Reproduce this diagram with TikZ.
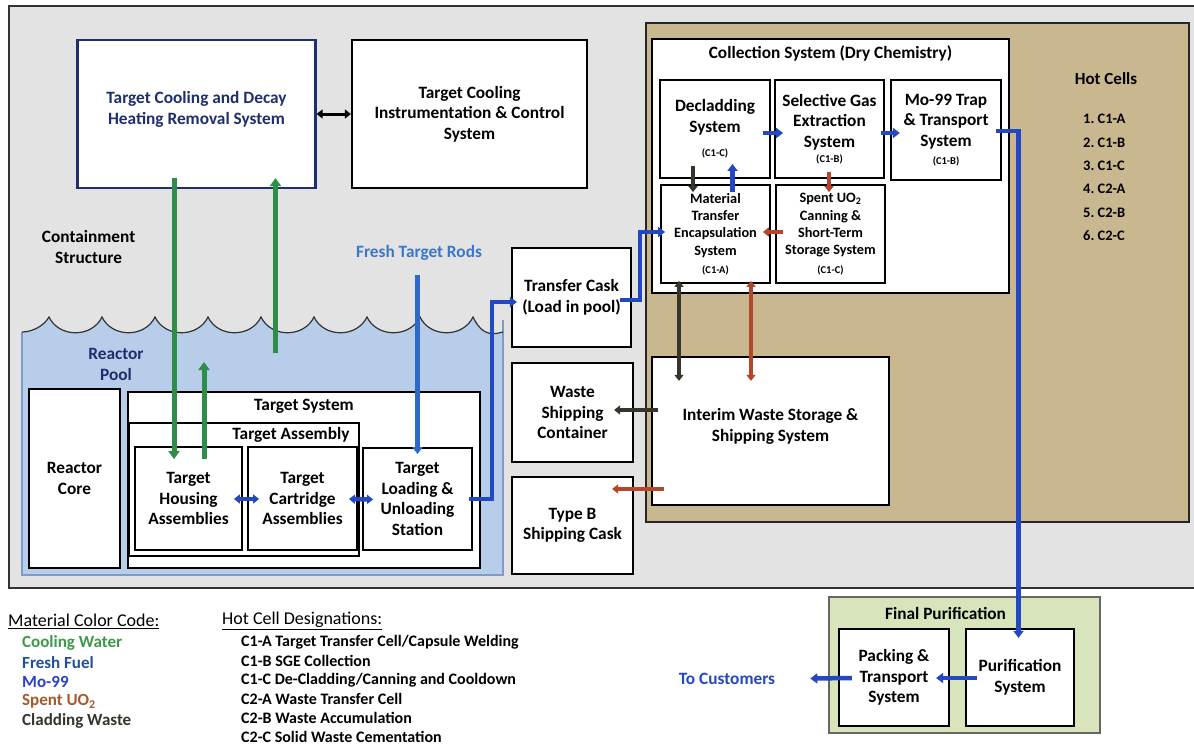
\documentclass[tikz,border=0pt]{standalone}
\usepackage{fontspec}
\setmainfont{Carlito}
\usetikzlibrary{arrows.meta,calc,positioning}
\definecolor{contc}{HTML}{E3E3E3}
\definecolor{tanc}{HTML}{C9B790}
\definecolor{poolc}{HTML}{B8CDE9}
\definecolor{poolline}{HTML}{7F9CC8}
\definecolor{greenbox}{HTML}{D7E4BC}
\definecolor{navyc}{HTML}{1F2F6E}
\definecolor{coolc}{HTML}{2E8E48}
\definecolor{fuelc}{HTML}{3068C8}
\definecolor{moc}{HTML}{2448C0}
\definecolor{spentc}{HTML}{B4462A}
\definecolor{cladc}{HTML}{35352B}
\definecolor{lfresh}{HTML}{3B78C8}
\definecolor{lfuel}{HTML}{234F9C}
\definecolor{lmo}{HTML}{2A40CC}
\definecolor{lspent}{HTML}{A45A2A}
\definecolor{lcool}{HTML}{3C9A4A}
\newcommand\fbig{\fontsize{17.3}{20.5}\selectfont\bfseries}
\newcommand\fmid{\fontsize{14.3}{17.3}\selectfont\bfseries}
\newcommand\ftiny{\fontsize{10.5}{12}\selectfont\bfseries}
\newcommand\flgd{\fontsize{17}{19}\selectfont\bfseries}
\newcommand\wavetop{(22,332) .. controls (32,332) and (44,326) .. (49,317)
  \foreach \a in {49,102,...,420}{ .. controls (\a+10,338) and (\a+43,338) .. (\a+53,317)}
  .. controls (483,338) and (495,334) .. (503,332)}
\tikzset{
  blk/.style={draw=black,line width=2.2pt,fill=white,align=center,inner sep=0pt,font=\fbig},
  thinbox/.style={blk,line width=1.3pt},
  ttl/.style={inner sep=0pt,font=\fbig},
  txt/.style={inner sep=0pt,align=center,font=\fbig},
  hclist/.style={inner sep=0pt,anchor=west,font=\fontsize{14.5}{16}\selectfont\bfseries},
  lgd/.style={inner sep=0pt,anchor=west,font=\flgd},
  cool/.style={draw=coolc,line width=5pt,-{Triangle[length=8pt,width=11pt]}},
  fuel/.style={draw=fuelc,line width=4.5pt,-{Triangle[length=7pt,width=10pt]}},
  mo/.style={draw=moc,line width=4.5pt,-{Triangle[length=7pt,width=10pt]}},
  spentarr/.style={draw=spentc,line width=4pt,-{Triangle[length=6pt,width=9pt]}},
  clad/.style={draw=cladc,line width=4pt,-{Triangle[length=6pt,width=9pt]}},
  twoway/.style={{Triangle[length=6pt,width=9pt]}-{Triangle[length=6pt,width=9pt]}}
}
\begin{document}
\begin{tikzpicture}[x=1pt,y=-1pt]
\useasboundingbox (0,0) rectangle (1194,745);
\fill[white] (0,0) rectangle (1194,745);
% containment structure and hot cells
\draw[line width=1.8pt,draw=black!80,fill=contc] (9,6) rectangle (1204,588);
\draw[line width=1.5pt,draw=black!85,fill=tanc] (646,23) rectangle (1189,522);
% reactor pool
\fill[poolc] \wavetop -- (503,575) -- (22,575) -- cycle;
\draw[poolline,line width=1.2pt] (503,320) -- (503,575) -- (22,575) -- (22,332);
\draw[black!80,line width=1.2pt] \wavetop;
\node[txt,text=navyc] (poollbl) at (116,364.5) {Reactor\\Pool};
\node[txt] (contlbl) at (88.6,247) {Containment\\Structure};
\node[txt,text=lfresh] (fresh) at (419,253) {Fresh Target Rods};

% cooling systems
\node[blk,draw=navyc,text=navyc,minimum width=238pt,minimum height=148pt] (tcdhr) at (196.5,114) {Target Cooling and Decay\\Heating Removal System\\[-8pt]};
\node[blk,minimum width=235pt,minimum height=148pt] (tcic) at (469.5,114) {Target Cooling\\Instrumentation \& Control\\System};

% reactor
\node[blk,minimum width=91pt,minimum height=179pt] (core) at (74.5,478.5) {Reactor\\Core};
\node[blk,minimum width=352pt,minimum height=176pt] (tsys) at (304,480) {};
\node[ttl,below=8pt of tsys.north] (tsysttl) {Target System};
\node[thinbox,minimum width=230pt,minimum height=133pt] (tasm) at (244,489.5) {};
\node[ttl,below=5pt of tasm.north,xshift=47pt] (tasmttl) {Target Assembly};
\node[thinbox,line width=1.8pt,minimum width=107pt,minimum height=103pt] (thous) at (188.5,498.5) {Target\\Housing\\Assemblies};
\node[thinbox,line width=1.8pt,minimum width=109pt,minimum height=103pt] (tcart) at (302.5,498.5) {Target\\Cartridge\\Assemblies};
\node[thinbox,line width=1.8pt,minimum width=109pt,minimum height=102pt] (tload) at (417.5,499) {Target\\Loading \&\\Unloading\\Station};

% casks
\node[blk,minimum width=119pt,minimum height=99pt] (xcask) at (571.5,297.5) {Transfer Cask\\(Load in pool)};
\node[blk,minimum width=121pt,minimum height=99pt] (wsc) at (572.5,412.5) {Waste\\Shipping\\Container};
\node[blk,minimum width=121pt,minimum height=97pt] (typeb) at (572.5,525.5) {Type B\\Shipping Cask};

% collection system
\node[blk,minimum width=357pt,minimum height=254pt] (coll) at (830.5,166) {};
\node[ttl,below=8pt of coll.north] (collttl) {Collection System (Dry Chemistry)};
\node[thinbox,line width=1.8pt,minimum width=109.5pt,minimum height=98pt] (decl) at (715,129) {Decladding\\System\\[4pt]{\ftiny (C1-C)}};
\node[thinbox,line width=1.8pt,minimum width=109pt,minimum height=98pt] (sge) at (829.5,129) {Selective Gas\\Extraction\\System\\[-5pt]{\ftiny (C1-B)}};
\node[thinbox,line width=1.8pt,minimum width=109.5pt,minimum height=100pt] (motrap) at (946,130) {Mo-99 Trap\\\& Transport\\System\\[-2pt]{\ftiny (C1-B)}};
\node[thinbox,line width=1.8pt,font=\fmid,minimum width=109pt,minimum height=98pt] (mtes) at (715.5,234) {Material\\Transfer\\Encapsulation\\System\\[1pt]{\ftiny (C1-A)}};
\node[thinbox,line width=1.8pt,font=\fmid,minimum width=109pt,minimum height=98pt] (spent) at (830.5,234) {Spent UO\textsubscript{2}\\Canning \&\\Short-Term\\Storage System\\[1pt]{\ftiny (C1-C)}};
\node[blk,minimum width=237pt,minimum height=148pt] (iwss) at (770.5,431) {Interim Waste Storage \&\\Shipping System\\[-8pt]};

% hot cells
\node[ttl,font=\fontsize{17}{19}\selectfont\bfseries] (hcttl) at (1106,79) {Hot Cells};
\foreach \c [count=\i] in {C1-A,C1-B,C1-C,C2-A,C2-B,C2-C}
  \node[hclist] (hc\i) at (1083,{95.6+23.4*\i}) {\i.\ \c};

% final purification
\node[draw=black!60,line width=1.5pt,fill=greenbox,minimum width=271pt,minimum height=136pt] (finpur) at (964.5,665) {};
\node[ttl,below=11pt of finpur.north,xshift=-19pt] (finttl) {Final Purification};
\node[blk,minimum width=110pt,minimum height=97pt] (pack) at (894,677.5) {Packing \&\\Transport\\System};
\node[blk,minimum width=108.5pt,minimum height=97pt] (pur) at (1020,677.5) {Purification\\System};
\node[txt,text=moc] (tocust) at (727,679) {To Customers};

% legend
\node[lgd,font=\fontsize{18}{20}\selectfont] (lgdttl) at (8,621) {\underline{Material Color Code:}};
\foreach \t/\c [count=\i] in {Cooling Water/lcool,Fresh Fuel/lfuel,Mo-99/lmo,{Spent UO\textsubscript{2}}/lspent,Cladding Waste/cladc}
  \node[lgd,text=\c] (lg\i) at (22,{623+19.6*\i}) {\t};
\node[lgd,font=\fontsize{18}{20}\selectfont] (hcdttl) at (222,621) {\underline{Hot Cell Designations:}};
\foreach \t [count=\i] in {{C1-A Target Transfer Cell/Capsule Welding},{C1-B SGE Collection},{C1-C De-Cladding/Canning and Cooldown},{C2-A Waste Transfer Cell},{C2-B Waste Accumulation},{C2-C Solid Waste Cementation}}
  \node[lgd,font=\fontsize{16}{18}\selectfont\bfseries] (hcd\i) at (241,{623+19*\i}) {\t};

% cooling water
\draw[line width=3pt,twoway] (tcdhr.east) -- (tcic.west);
\draw[cool] ($(tcdhr.south)+(-22.5,-11)$) -- ($(thous.north)+(-14.5,13)$);
\coordinate (poolret) at (204,362);
\coordinate (poolup) at (275.5,353);
\draw[cool] ($(thous.north)+(15.5,13)$) -- (poolret);
\draw[cool] (poolup) -- ($(tcdhr.south)+(79,-11)$);

% fresh fuel
\draw[fuel] (fresh.south -| tload.north) ++(0,14) -- ($(tload.north)+(0,7)$);
\draw[mo,twoway] ($(thous.east)+(-9,0.5)$) -- ($(tcart.west)+(12,0.5)$);
\draw[mo,twoway] ($(tcart.east)+(-9,0.5)$) -- ($(tload.west)+(11,0.5)$);
\draw[mo] ($(tload.east)+(-4,0)$) -| ($(xcask.west)+(-19,4.5)$) -- ($(xcask.west)+(6,4.5)$);
\draw[mo] ($(xcask.east)+(-12,2.5)$) -| ($(mtes.west)+(-20,-2)$) -- ($(mtes.west)+(5,-2)$);

% mo-99
\draw[mo] ($(decl.east)+(-8,4)$) -- ($(sge.west)+(9,4)$);
\draw[mo] ($(sge.east)+(-4,4)$) -- ($(motrap.west)+(9.5,3)$);
\draw[mo] ($(mtes.north)+(17,8)$) -- ($(decl.south)+(17.5,-15)$);
\draw[mo] ($(motrap.east)+(-6,1)$) -| ($(pur.north)+(-1.5,10)$);
\draw[mo] ($(pur.west)+(12.5,0.5)$) -- ($(pack.east)+(-14,0.5)$);
\draw[mo] ($(pack.west)+(14,0.5)$) -- ($(tocust.east)+(35,-0.5)$);

% spent uo2 and cladding waste
\draw[clad] ($(decl.south)+(-22,-13)$) -- ($(mtes.north)+(-22.5,8)$);
\draw[spentarr] ($(sge.south)+(-0.5,-7)$) -- ($(spent.north)+(-1.5,8)$);
\draw[spentarr] ($(spent.west)+(8,-2)$) -- ($(mtes.east)+(-8,-2)$);
\draw[clad,twoway] ($(mtes.south)+(-36.5,-3)$) -- ($(iwss.north)+(-91.5,25)$);
\draw[spentarr,twoway] ($(mtes.south)+(35.5,-3)$) -- ($(iwss.north)+(-19.5,25)$);
\draw[clad] ($(iwss.west)+(7,-21)$) -- ($(wsc.east)+(-20,-2.5)$);
\draw[spentarr] ($(iwss.west)+(13,58)$) -- ($(typeb.east)+(-22,-36.5)$);
\end{tikzpicture}
\end{document}
